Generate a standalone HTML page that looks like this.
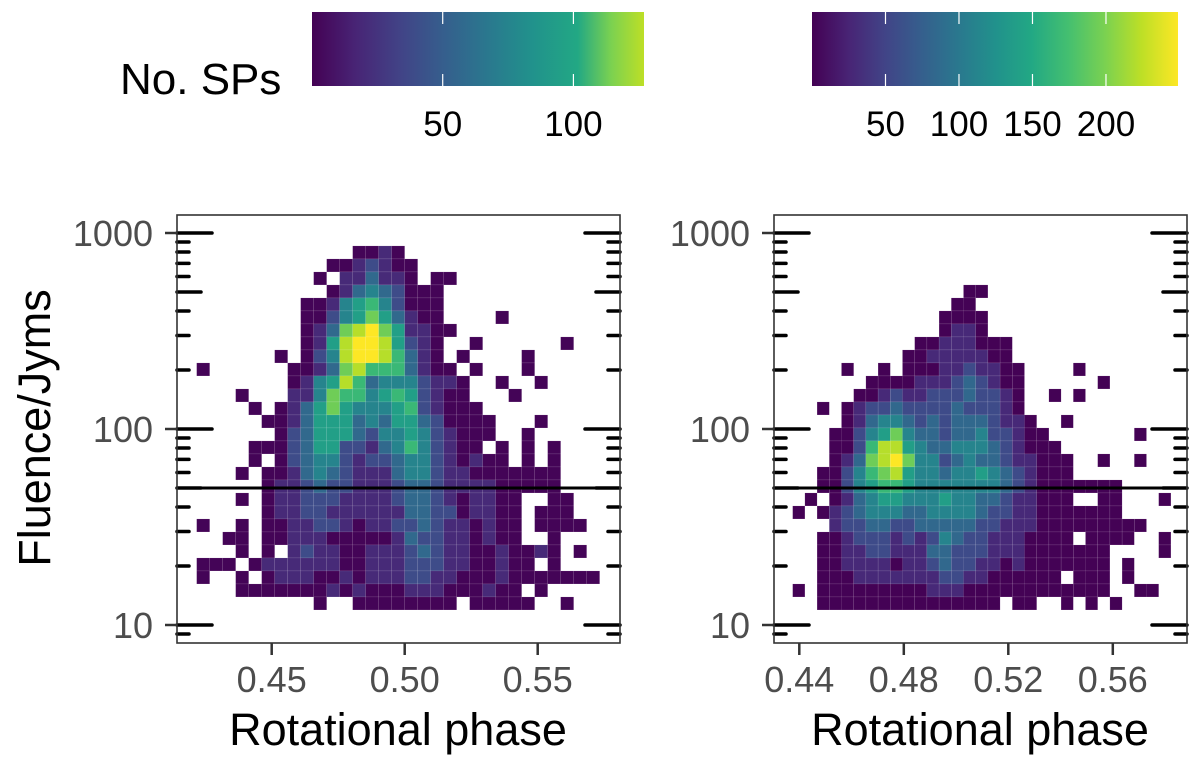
<!DOCTYPE html>
<html><head><meta charset="utf-8"><style>
html,body{margin:0;padding:0;background:#fff;}
svg{display:block;font-family:"Liberation Sans",Arial,sans-serif;}
</style></head><body>
<svg id="fig" width="1200" height="771" viewBox="0 0 1200 771" xmlns="http://www.w3.org/2000/svg">
<defs>
<linearGradient id="vir1" x1="0" x2="1" y1="0" y2="0">
<stop offset="0" stop-color="#440154"/><stop offset="0.13" stop-color="#482475"/><stop offset="0.27" stop-color="#414487"/><stop offset="0.4" stop-color="#355f8d"/><stop offset="0.53" stop-color="#2a788e"/><stop offset="0.66" stop-color="#21918c"/><stop offset="0.8" stop-color="#22a884"/><stop offset="0.9" stop-color="#7ad151"/><stop offset="1" stop-color="#bddf26"/>
</linearGradient>
<linearGradient id="vir2" x1="0" x2="1" y1="0" y2="0">
<stop offset="0" stop-color="#440154"/><stop offset="0.1" stop-color="#482475"/><stop offset="0.2" stop-color="#414487"/><stop offset="0.3" stop-color="#355f8d"/><stop offset="0.4" stop-color="#2a788e"/><stop offset="0.5" stop-color="#21918c"/><stop offset="0.6" stop-color="#22a884"/><stop offset="0.7" stop-color="#44bf70"/><stop offset="0.8" stop-color="#7ad151"/><stop offset="0.9" stop-color="#bddf26"/><stop offset="1" stop-color="#fde725"/>
</linearGradient>
</defs>
<g>
<text x="120" y="94" font-size="44" fill="#000">No. SPs</text>
<rect x="312" y="12" width="332" height="74" fill="url(#vir1)"/>
<rect x="812" y="12" width="366" height="74" fill="url(#vir2)"/>
<g id="cbticks"></g>
</g>
<g id="panels"></g>
<text transform="translate(50,428) rotate(-90)" text-anchor="middle" font-size="45" fill="#000">Fluence/Jyms</text>
<text x="398" y="745" text-anchor="middle" font-size="45" fill="#000">Rotational phase</text>
<text x="980" y="745" text-anchor="middle" font-size="45" fill="#000">Rotational phase</text>
</svg>
<script>
// ---- data ----
const leftCbTicks = [50, 100];
const rightCbTicks = [50, 100, 150, 200];
const leftMaxCount = 127;
const rightMaxCount = 249;
const leftXTicks = [0.45, 0.50, 0.55];
const rightXTicks = [0.44, 0.48, 0.52, 0.56];
const yTicks = [10, 100, 1000];
const thresholdFluence = 50;
const leftPhaseStart = 0.4218;
const leftPhaseBin = 0.004887;
const rightPhaseStart = 0.43747;
const rightPhaseBin = 0.00467;
const logTop = 2.934;
const logBin = 0.06633;
// rows from top: [first column index, count levels 0-9 ('.' = empty)]
const leftRows = [
[12,"0010"],[10,"0012100"],[9,"0.113110.00"],[10,"013432000"],[8,"00145642000"],
[8,"00245753100....0"],[8,"013789751100"],[8,"01589985210..0......0"],[6,"0.02489986310.0....0"],
[0,"0......0013786663100.0...0"],[7,"01458634442110..0..0"],[3,"0...11476645652100...0"],
[4,"0.0135754445621000"],[5,"001355534355320000...0"],[6,"02355532445421000..0"],
[4,"000235522134642100.0.0.0"],[4,"0.023442122344210100.0.0"],[3,"0.00134321113442110000000"],
[5,"01123221112332111100000"],[3,"0.01122211112332101100..00"],[5,"01122111111332201100.000"],
[0,"0..0.00112210112232110100.0000"],[2,"00.00111000001322110100..0"],[3,"0.0.121100111232110010010.0"],
[0,"000.0111111001112221100100.0"],[0,"0..0.01110010111221100010000000"],[3,"0000000101000111000100.0"],
[9,"0..00000000.00000..0"]
];
const rightRowOffset = 3;
const rightRows = [
[14,"00"],[13,"00"],[12,"0000"],[12,"0110"],[10,"00111000"],[9,"001111100"],
[4,"0..0.0001121100....0"],[6,"0000111232100......0"],[5,"00121122232210..0.0"],
[2,"0.012232222322210"],[4,"0134432323332110..0"],[3,"002457433233422100.......0"],
[3,"0026885433444321000"],[3,"01378974423433211000..0..0"],[2,"002467854434454321000"],
[2,"0024566544444443210000000"],[1,"0.01345544454433211000..00...0"],[0,"0.0123444334444322110000000"],
[3,"12233223333322111000000000"],[2,"001222121243221110000.0000..0"],[2,"001122111332221110000000....0"],
[2,"001111011232211010000000.0"],[2,"00011111112211000000.000.0"],[0,"0.000000000111000000000000..00"],
[2,"000000000000000.00..0.0.0"]
];
// ---- helpers ----
const NS = "http://www.w3.org/2000/svg";
const vir = ["#440154","#482475","#414487","#355f8d","#2a788e","#21918c","#22a884","#44bf70","#7ad151","#bddf26","#fde725"];
function hex(c){return [parseInt(c.slice(1,3),16),parseInt(c.slice(3,5),16),parseInt(c.slice(5,7),16)];}
function viridis(t){t=Math.max(0,Math.min(1,t));const p=t*10,i=Math.min(9,Math.floor(p)),f=p-i;const a=hex(vir[i]),b=hex(vir[i+1]);return "rgb("+a.map((v,k)=>Math.round(v+(b[k]-v)*f)).join(",")+")";}
function mk(tag,attrs,parent){const e=document.createElementNS(NS,tag);for(const k in attrs)e.setAttribute(k,attrs[k]);parent.appendChild(e);return e;}
const yScale = f => 625 - (Math.log10(f) - 1) * 196;
const yLog = l => 625 - (l - 1) * 196;
const panels = document.getElementById("panels");
const cbt = document.getElementById("cbticks");

function colorbarTicks(ticks, x0, w, maxC, side){
  ticks.forEach(v=>{
    const x = x0 + v / maxC * w;
    let l = mk("line",{x1:x,x2:x,y1:12,y2:24,stroke:"#fff","stroke-width":1.2},cbt);
    
    
    l = mk("line",{x1:x,x2:x,y1:74,y2:86,stroke:"#fff","stroke-width":1.2},cbt);
    
    
    const t = mk("text",{x:x,y:136,"text-anchor":"middle","font-size":35,fill:"#000"},cbt);
    t.textContent = v;
    
    
  });
}
colorbarTicks(leftCbTicks, 312, 332, leftMaxCount, "left");
colorbarTicks(rightCbTicks, 812, 366, rightMaxCount, "right");

function drawPanel(name, px0, px1, xFn, xTicks, rows, rowOff, pStart, pBin, maxC, decimals){
  const g = mk("g",{},panels);
  
  
  rows.forEach((r,ri)=>{
    const row = ri + rowOff;
    const lt = logTop - row*logBin, lb = lt - logBin;
    for(let k=0;k<r[1].length;k++){
      const ch = r[1][k]; if(ch===".") continue;
      const lev = +ch;
      const col = r[0]+k;
      const x0 = xFn(pStart + col*pBin), x1 = xFn(pStart + (col+1)*pBin);
      const count = 1 + lev*(maxC-1)/9;
      const c = mk("rect",{x:x0,y:yLog(lt),width:x1-x0,height:yLog(lb)-yLog(lt),fill:viridis(count/maxC),stroke:"rgba(255,255,255,0.12)","stroke-width":0.6},g);
      
      
    }
  });
  const th = mk("line",{x1:px0,x2:px1,y1:yScale(thresholdFluence),y2:yScale(thresholdFluence),stroke:"#000","stroke-width":3},g);
  
  
  for(let d=1; d<=1000; d*=10){
    for(let m=1;m<=9;m++){
      const v=d*m; const y=yScale(v);
      if(y<216||y>642) continue;
      const len = m===1?35:(m===5?24:12);
      let t = mk("line",{x1:px0,x2:px0+len,y1:y,y2:y,stroke:"#000","stroke-width":3.5,"stroke-linecap":"round"},g);
      
      
      t = mk("line",{x1:px1,x2:px1-len,y1:y,y2:y,stroke:"#000","stroke-width":3.5,"stroke-linecap":"round"},g);
      
      
    }
  }
  yTicks.forEach(v=>{
    const y=yScale(v);
    const t = mk("line",{x1:px0-12,x2:px0,y1:y,y2:y,stroke:"#333","stroke-width":2.5},g);
    
    
    const lb = mk("text",{x:px0-24,y:y+13,"text-anchor":"end","font-size":36,fill:"#4d4d4d"},g);
    lb.textContent = v;
    
    
  });
  xTicks.forEach(v=>{
    const x=xFn(v);
    const t = mk("line",{x1:x,x2:x,y1:643,y2:655,stroke:"#333","stroke-width":2.5},g);
    
    
    const lb = mk("text",{x:x,y:692,"text-anchor":"middle","font-size":36,fill:"#4d4d4d"},g);
    lb.textContent = v.toFixed(decimals);
    
    
  });
  const fr = mk("rect",{x:px0,y:215,width:px1-px0,height:428,fill:"none",stroke:"#333","stroke-width":1.6},g);
  
  
}
drawPanel("left-panel",177,620,p=>271.7+(p-0.45)*2660,leftXTicks,leftRows,0,leftPhaseStart,leftPhaseBin,leftMaxCount,2);
drawPanel("right-panel",774,1187,p=>799.3+(p-0.44)*2612.5,rightXTicks,rightRows,rightRowOffset,rightPhaseStart,rightPhaseBin,rightMaxCount,2);
</script>
</body></html>
